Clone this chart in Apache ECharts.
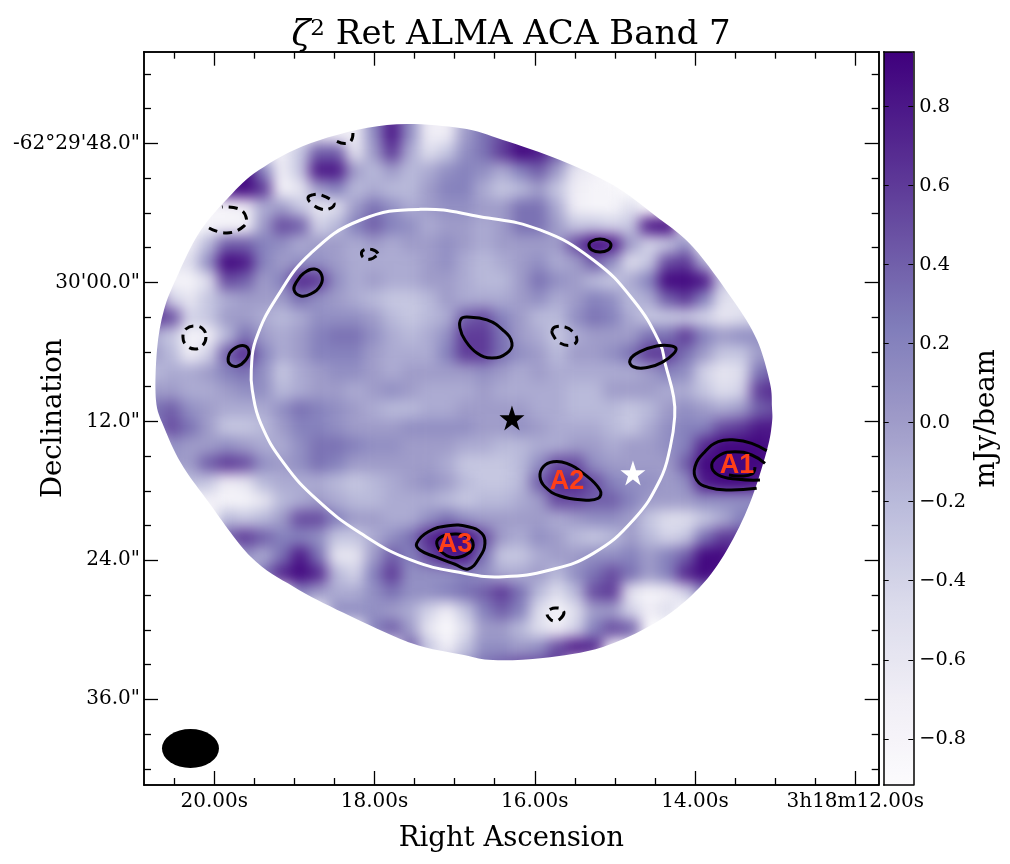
<!DOCTYPE html>
<html>
<head>
<meta charset="utf-8">
<title>zeta2 Ret ALMA ACA Band 7</title>
<script src="https://cdn.jsdelivr.net/npm/echarts@6/dist/echarts.min.js"></script>
<style>
    html, body { margin: 0; background: #fff; }
    #chart { width: 1010px; height: 864px; }
</style>
</head>
<body>
<div id="chart"></div>
<script>
const _ = null;
const serif = '"DejaVu Serif"';

// axis ranges: RA seconds past 3h18m, Dec arcsec past -62 deg 29'
const raRange = [11.708, 20.877];
const decRange = [40.09, 103.40];
const raTicks = [20, 18, 16, 14, 12];
const raLabels = ['20.00s', '18.00s', '16.00s', '14.00s', '3h18m12.00s'];
const raMinor = [20.5, 19.5, 19, 18.5, 17.5, 17, 16.5, 15.5, 15, 14.5, 13.5, 13, 12.5];
const decTicks = [48, 60, 72, 84, 96];
const decLabels = ['-62°29\'48.0"', '30\'00.0"', '12.0"', '24.0"', '36.0"'];
const decMinor = [42, 45, 51, 54, 57, 63, 66, 69, 75, 78, 81, 87, 90, 93, 99, 102];
const barTicks = [-0.8, -0.6, -0.4, -0.2, 0, 0.2, 0.4, 0.6, 0.8];
const barRange = [-0.917, 0.939];
const purples = ['#fcfbfd', '#efedf5', '#dadaeb', '#bcbddc', '#9e9ac8', '#807dba', '#6a51a3', '#54278f', '#3f007d'];

// flux in 0.1 mJy/beam, 40 x 40 coarse cells, rows start at row 3
const mapRows = [
    [_,_,_,_,_,_,_,_,_,_,_,-7,2,7,1,-7,-7,-1,3],
    [_,_,_,_,_,_,_,_,-6,-6,-7,-7,1,8,1,-7,-7,0,3,5,8,7],
    [_,_,_,_,_,_,-6,-7,-3,4,4,-6,0,6,-1,-5,-3,1,3,6,9,8,4,-2],
    [_,_,_,_,4,9,2,-7,-3,8,8,0,-2,0,-2,-1,1,2,1,-1,2,4,0,-6,-7],
    [_,_,_,_,8,9,6,-8,-6,0,2,-2,-1,-2,-2,0,2,2,-1,-3,-2,0,-3,-7,-8,-8],
    [_,_,_,-8,-8,-7,-1,0,-3,-6,-5,0,3,1,-1,0,1,1,0,0,3,3,-1,-7,-8,-8,-5],
    [_,_,_,-8,-8,-8,0,5,4,-4,-2,2,4,2,1,-1,0,0,-1,0,3,3,0,-3,-3,-4,-3,8,9],
    [_,_,-7,-2,4,4,2,1,-1,0,0,-1,0,-1,0,0,1,0,-1,0,0,0,0,5,9,8,0,-4,-3,1],
    [_,-6,-5,1,9,8,2,0,1,1,0,-1,-1,-1,-1,0,1,-1,-2,-1,0,1,-1,0,4,1,-5,-3,5,6,-1],
    [-8,-8,-8,-5,5,4,0,2,7,6,1,-1,0,-1,-1,0,0,-1,-2,-2,0,3,1,0,-2,-3,-1,2,9,9,8,-3,-6],
    [6,-4,-6,-3,-1,0,0,0,3,1,0,-1,-2,-3,-3,-2,0,-1,-1,-1,0,1,-1,0,2,1,-2,-1,4,6,2,-5,-6,-6],
    [6,5,-4,-3,0,0,-1,-2,-1,1,1,1,0,-2,-3,-2,-1,4,5,2,0,-2,-2,1,3,2,-1,-3,-3,-3,-4,-6,-5,-4],
    [-1,-3,-8,-7,-2,3,0,-1,0,2,3,3,1,-1,-2,-1,1,6,6,3,0,-1,-3,-1,0,0,0,3,3,6,2,0,1,1,0],
    [0,-2,-7,-4,4,7,2,-1,0,2,2,2,0,-1,-1,-1,2,6,6,3,1,0,-2,0,0,1,3,6,6,3,0,-3,-3,0,0],
    [-2,-1,-1,0,2,3,1,-3,-1,0,1,1,0,-1,0,0,0,0,1,0,-1,0,-1,-1,-1,-1,-1,0,2,1,-4,-6,-5,3,4],
    [0,0,-1,-1,0,1,1,-2,-1,0,0,-1,0,1,0,-1,-1,-1,0,-1,-1,-1,-1,-2,-2,0,0,0,-1,-1,-3,-5,-4,6,7],
    [3,4,1,0,-1,-1,-1,1,3,2,1,0,-1,-2,-2,-1,-1,0,0,0,0,-1,-1,-2,-2,-2,-3,-2,0,1,0,-1,0,4,5],
    [2,5,3,0,-3,-3,-2,0,2,2,1,0,0,0,1,1,1,1,0,0,1,0,-1,-1,-1,-2,-3,-1,1,2,2,5,6,8,8],
    [_,1,0,0,1,0,-1,-1,1,3,3,2,1,1,0,0,0,-1,-1,-2,-2,-1,-1,0,0,-1,0,0,1,2,7,9,9,9,8],
    [_,0,0,4,6,5,1,0,1,3,2,0,0,0,0,0,-1,-3,-3,-3,-2,1,5,5,1,0,0,0,0,4,9,9,9,9,8],
    [_,_,-2,-3,-7,-6,-2,-1,-1,-1,-2,-3,-2,-1,0,1,0,-2,-3,-3,-2,4,7,7,5,2,1,1,0,1,8,9,9,8,6],
    [_,_,_,-7,-8,-8,-6,-2,-1,0,-1,-2,-2,-1,-1,-1,-2,-3,-2,-2,-1,0,5,5,4,4,2,0,0,0,1,1,1,1,0],
    [_,_,_,_,-2,-3,-2,0,5,5,2,0,0,-1,-1,1,3,1,0,0,0,0,-1,0,1,1,0,-3,-5,-5,-3,-1,2,3],
    [_,_,_,_,4,6,4,2,2,1,-3,-3,-1,1,3,7,9,9,5,0,-1,1,0,-2,-3,-2,0,-2,-4,-3,3,6,6],
    [_,_,_,_,_,1,-1,3,8,3,-6,-6,0,4,2,5,8,8,3,-3,-3,-1,0,0,1,1,2,0,2,4,9,9,6],
    [_,_,_,_,_,_,3,7,9,7,-2,-4,2,6,1,1,1,2,1,-1,-1,0,-2,1,3,5,3,0,2,7,9,8],
    [_,_,_,_,_,_,_,_,2,0,-1,-1,1,3,1,1,2,3,4,6,3,-2,-5,-2,5,6,-6,-8,-7,-4,2],
    [_,_,_,_,_,_,_,_,_,_,1,1,1,0,-1,-4,-7,-3,2,4,2,-5,-8,-5,0,0,-4,-7,-5],
    [_,_,_,_,_,_,_,_,_,_,_,_,2,4,0,-6,-9,-5,0,0,-2,-5,-7,-4,2,5,4],
    [_,_,_,_,_,_,_,_,_,_,_,_,_,_,4,-3,-7,-3,1,1,0,1,5,8,7],
    [_,_,_,_,_,_,_,_,_,_,_,_,_,_,_,_,-2,0,3,4,5,5,6]
];
const firstRow = 3;
const cellCount = 40;

// map outline, [RA s, Dec "]
const mapEdge = [[17.845,46.42],[16.934,46.68],[16.397,47.72],[15.686,49.44],[15.024,51.60],[14.475,54.36],[14.026,56.95],[13.527,61.53],[13.227,64.98],[13.065,68.69],[13.040,70.77],[13.040,72.15],[13.102,74.48],[13.315,79.05],[13.602,83.11],[13.938,86.30],[14.438,89.15],[15.149,91.48],[15.898,92.43],[16.522,92.61],[16.884,92.18],[17.545,91.14],[18.381,88.55],[19.005,86.30],[19.542,83.71],[20.091,78.79],[20.416,75.60],[20.628,72.49],[20.728,70.16],[20.715,65.84],[20.628,62.39],[20.466,59.54],[20.191,55.74],[19.817,52.64],[19.442,50.31],[18.793,47.97]];

// primary beam circle
const fieldEdge = [[17.424,53.70],[18.173,54.62],[18.797,57.50],[19.214,61.24],[19.483,64.98],[19.538,67.57],[19.526,69.30],[19.421,72.17],[19.130,75.63],[18.715,78.79],[18.173,81.67],[17.549,83.97],[16.884,85.12],[16.393,85.42],[15.810,84.84],[15.270,83.40],[14.771,80.52],[14.438,77.07],[14.309,74.22],[14.254,71.63],[14.267,69.90],[14.372,67.05],[14.438,65.27],[14.771,61.53],[15.270,58.07],[15.935,55.48],[16.684,54.34],[17.424,53.70]];

// contours above the noise
const contourA = [[18.747,58.85],[18.660,59.37],[18.672,60.23],[18.797,61.01],[18.922,61.18],[19.005,60.66],[18.972,59.95],[18.881,59.20],[18.747,58.85]];
const contourB = [[19.629,65.47],[19.567,65.99],[19.608,66.71],[19.713,67.25],[19.804,67.08],[19.825,66.47],[19.763,65.78],[19.629,65.47]];
const contourC = [[15.049,56.78],[15.087,57.21],[15.186,57.38],[15.286,57.21],[15.324,56.78],[15.286,56.43],[15.186,56.26],[15.087,56.43],[15.049,56.78]];
const contourD = [[16.921,63.17],[16.846,63.00],[16.597,63.25],[16.397,64.12],[16.285,65.24],[16.347,66.10],[16.534,66.54],[16.722,66.10],[16.871,64.98],[16.934,63.95],[16.921,63.17]];
const contourE = [[14.238,65.70],[14.313,65.47],[14.479,65.50],[14.687,65.99],[14.812,66.71],[14.771,67.29],[14.584,67.34],[14.396,66.85],[14.272,66.19],[14.238,65.70]];
const contourA2 = [[15.769,75.49],[15.602,75.63],[15.395,76.49],[15.186,77.93],[15.208,78.65],[15.395,78.79],[15.686,78.45],[15.873,77.65],[15.935,76.78],[15.894,75.92],[15.769,75.49]];
const contourA1Outer = [[13.106,74.54],[13.293,73.90],[13.502,73.61],[13.710,73.76],[13.876,74.62],[14.001,75.92],[13.980,77.07],[13.835,77.70],[13.585,77.93],[13.231,77.78]];
const contourA1Inner = [[13.127,75.63],[13.293,74.91],[13.502,74.62],[13.689,74.91],[13.792,75.77],[13.710,76.64],[13.460,77.01],[13.190,77.07]];
const contourA1Core = [[13.577,76.64],[13.439,76.72],[13.289,76.55],[13.252,75.95]];
const contourA3Outer = [[17.474,82.53],[17.329,81.53],[17.080,81.01],[16.830,81.10],[16.663,81.67],[16.622,82.53],[16.684,83.69],[16.830,84.75],[16.996,84.34],[17.246,83.69],[17.433,83.11],[17.474,82.53]];
const contourA3Inner = [[17.224,82.53],[17.162,81.96],[16.996,81.73],[16.830,81.96],[16.768,82.68],[16.830,83.40],[16.996,83.78],[17.142,83.40],[17.224,82.53]];
// negative contours
const negativeA = [[18.469,47.84],[18.369,48.02],[18.294,47.80],[18.269,47.11]];
const negativeB = [[18.831,52.72],[18.781,52.46],[18.668,52.46],[18.506,53.15],[18.544,53.59],[18.668,53.67],[18.793,53.15],[18.831,52.72]];
const negativeC = [[20.066,55.31],[19.842,55.74],[19.629,55.14],[19.604,54.36],[19.692,53.67],[19.904,53.50]];
const negativeD = [[17.957,57.51],[18.032,57.17],[18.132,57.21],[18.163,57.56],[18.119,57.95],[18.044,57.99],[17.982,57.73],[17.957,57.51]];
const negativeE = [[20.104,64.72],[20.141,65.41],[20.241,65.76],[20.353,65.41],[20.391,64.72],[20.353,64.03],[20.241,63.77],[20.141,64.03],[20.104,64.72]];
const negativeF = [[15.786,64.20],[15.748,63.86],[15.623,63.86],[15.536,64.20],[15.474,64.98],[15.536,65.41],[15.686,65.24],[15.773,64.55],[15.786,64.20]];
const negativeG = [[15.636,88.55],[15.686,89.07],[15.748,89.24],[15.810,89.07],[15.848,88.55],[15.798,88.20],[15.736,88.12],[15.673,88.20],[15.636,88.55]];

const solidContours = [contourA, contourB, contourC, contourD, contourE, contourA2, contourA1Outer, contourA1Inner, contourA1Core, contourA3Outer, contourA3Inner];
const dashedContours = [negativeA, negativeB, negativeC, negativeD, negativeE, negativeF, negativeG];

const starBlack = [16.285, 71.72];
const starWhite = [14.775, 76.46];
const beamPos = [20.297, 100.25];
const sourceNames = ['A1', 'A2', 'A3'];
const sourcePos = [[13.477, 75.86], [15.598, 77.24], [16.996, 82.68]];

const starPath = 'path://M50 0L61.8 35.4L97.6 35.4L68.8 57.3L79.4 90.5L50 69L20.6 90.5L31.2 57.3L2.4 35.4L38.2 35.4Z';

let heatData = [];
mapRows.forEach(function(row, r) {
    row.forEach(function(v, c) {
        if (v !== null) {
            heatData.push([c, r + firstRow, v / 10]);
        }
    });
});

let cells = [];
for (let i = 0; i < cellCount; i++) {
    cells.push(String(i));
}

// one frame side of the WCS plot, major and minor ticks go on separate axes
function frameAxis(dim, position, ticks, length, labels) {
    let isX = dim === 'x';
    let axis = {
        type: 'value',
        position: position,
        inverse: true,
        min: (isX ? raRange : decRange)[0],
        max: (isX ? raRange : decRange)[1],
        zlevel: 1,
        z: 6,
        axisLine: { show: true, onZero: false, lineStyle: { color: '#000', width: 1.5 } },
        axisTick: {
            show: true,
            inside: true,
            length: length,
            customValues: ticks,
            lineStyle: { color: '#000', width: 1.3 }
        },
        axisLabel: { show: false },
        splitLine: { show: false }
    };
    if (labels) {
        axis.axisLabel = {
            show: true,
            customValues: ticks,
            margin: isX ? 7 : 4,
            padding: isX ? 0 : [2, 0, 0, 0],
            color: '#000',
            fontFamily: serif,
            fontSize: 20,
            hideOverlap: false,
            formatter: function(value) {
                let k = ticks.indexOf(value);
                return k >= 0 ? labels[k] : '';
            }
        };
        axis.name = isX ? 'Right Ascension' : 'Declination';
        axis.nameLocation = 'middle';
        axis.nameGap = isX ? 40 : 76;
        axis.nameMoveOverlap = false;
        axis.nameTextStyle = { color: '#000', fontFamily: serif, fontSize: 27.5 };
    }
    return axis;
}

function hiddenCellAxis(dim) {
    return {
        type: 'category',
        data: cells,
        show: false,
        inverse: dim === 'y'
    };
}

function barSide(position, withLabels) {
    let axis = {
        type: 'value',
        gridIndex: 1,
        position: position,
        min: barRange[0],
        max: barRange[1],
        zlevel: 1,
        z: 6,
        axisLine: { show: true, onZero: false, lineStyle: { color: '#000', width: 1.5 } },
        axisTick: { show: true, inside: true, length: 5, customValues: barTicks, lineStyle: { color: '#000', width: 1 } },
        axisLabel: { show: false },
        splitLine: { show: false }
    };
    if (withLabels) {
        axis.axisLabel = {
            show: true,
            customValues: barTicks,
            margin: 6,
            padding: [4, 0, 0, 0],
            color: '#000',
            fontFamily: serif,
            fontSize: 19.3,
            formatter: function(value) {
                return value.toFixed(1).replace('-', '\u2212');
            }
        };
        axis.name = 'mJy/beam';
        axis.nameLocation = 'middle';
        axis.nameRotate = 90;
        axis.nameGap = 60;
        axis.nameMoveOverlap = false;
        axis.nameTextStyle = { color: '#000', fontFamily: serif, fontSize: 27.5 };
    }
    return axis;
}

function barEdge(position) {
    return {
        type: 'value',
        gridIndex: 1,
        position: position,
        min: 0,
        max: 1,
        zlevel: 1,
        z: 6,
        axisLine: { show: true, onZero: false, lineStyle: { color: '#000', width: 1.5 } },
        axisTick: { show: false },
        axisLabel: { show: false },
        splitLine: { show: false }
    };
}

// contour as one smooth zrender shape, closed when the list ends where it began
function contourSeries(points, color, width, dash) {
    let last = points[points.length - 1];
    let closed = points[0][0] === last[0] && points[0][1] === last[1];
    let line = closed ? points.slice(0, -1) : points;
    return {
        type: 'custom',
        zlevel: 1,
        z: 3,
        encode: { x: 0, y: 1 },
        data: line,
        renderItem: function(params, api) {
            if (params.dataIndex !== 0) {
                return;
            }
            return {
                type: closed ? 'polygon' : 'polyline',
                shape: {
                    points: line.map(function(p) { return api.coord(p); }),
                    smooth: 0.45
                },
                style: { fill: 'none', stroke: color, lineWidth: width, lineDash: dash }
            };
        }
    };
}

let series = [{
    type: 'heatmap',
    xAxisIndex: 4,
    yAxisIndex: 4,
    zlevel: 0,
    progressive: 0,
    data: heatData
}, contourSeries(fieldEdge, '#fff', 3)];

solidContours.forEach(function(points) {
    series.push(contourSeries(points, '#000', 3));
});
dashedContours.forEach(function(points) {
    series.push(contourSeries(points, '#000', 3, [9, 6]));
});

series.push({
    type: 'scatter',
    zlevel: 1,
    z: 4,
    symbol: starPath,
    symbolSize: 25,
    itemStyle: { color: '#000', opacity: 1 },
    data: [starBlack]
}, {
    type: 'scatter',
    zlevel: 1,
    z: 4,
    symbol: starPath,
    symbolSize: 25,
    itemStyle: { color: '#fff', opacity: 1 },
    data: [starWhite]
}, {
    type: 'scatter',
    zlevel: 1,
    z: 4,
    symbol: 'circle',
    symbolSize: [57, 39],
    itemStyle: { color: '#000', opacity: 1 },
    data: [beamPos]
}, {
    type: 'scatter',
    zlevel: 1,
    z: 8,
    symbolSize: 2,
    itemStyle: { color: 'transparent', opacity: 1 },
    label: {
        show: true,
        position: 'inside',
        formatter: '{b}',
        color: '#ff3f17',
        opacity: 1,
        fontFamily: '"Liberation Sans"',
        fontWeight: 'bold',
        fontSize: 27
    },
    labelLayout: { hideOverlap: false },
    data: sourceNames.map(function(name, i) {
        return { name: name, value: sourcePos[i] };
    })
});

let chart = echarts.init(document.getElementById('chart'));
let option = {
    animation: false,
    title: {
        text: '{z|ζ}{s|2}{t| Ret ALMA ACA Band 7}',
        left: 506,
        top: 13,
        textAlign: 'center',
        zlevel: 1,
        textStyle: {
            fontWeight: 'normal',
            rich: {
                z: { fontFamily: serif, fontStyle: 'italic', fontWeight: 'normal', fontSize: 35, color: '#000' },
                s: { fontFamily: serif, fontWeight: 'normal', fontSize: 23, color: '#000', verticalAlign: 'top' },
                t: { fontFamily: serif, fontWeight: 'normal', fontSize: 34, color: '#000' }
            }
        }
    },
    grid: [
        { left: 144, top: 51.7, width: 734.7, height: 733.3, zlevel: 1, outerBoundsMode: 'none' },
        { left: 883.7, top: 51.7, width: 29.6, height: 733.3, zlevel: 1, outerBoundsMode: 'none' }
    ],
    visualMap: {
        type: 'continuous',
        seriesIndex: 0,
        min: barRange[0],
        max: barRange[1],
        calculable: false,
        hoverLink: false,
        left: 883.7,
        top: 51.7,
        padding: 0,
        itemWidth: 29.6,
        itemHeight: 733.3,
        zlevel: 1,
        inRange: { color: purples }
    },
    xAxis: [
        frameAxis('x', 'bottom', raTicks, 14, raLabels),
        frameAxis('x', 'bottom', raMinor, 7),
        frameAxis('x', 'top', raTicks, 14),
        frameAxis('x', 'top', raMinor, 7),
        hiddenCellAxis('x'),
        barEdge('bottom'),
        barEdge('top')
    ],
    yAxis: [
        frameAxis('y', 'left', decTicks, 14, decLabels),
        frameAxis('y', 'left', decMinor, 7),
        frameAxis('y', 'right', decTicks, 14),
        frameAxis('y', 'right', decMinor, 7),
        hiddenCellAxis('y'),
        barSide('right', true),
        barSide('left', false)
    ],
    series: series
};
chart.setOption(option);

// the map is a smoothed image: soften the coarse cells on their own canvas layer, cut to the map outline
let edgePx = mapEdge.map(function(p) {
    return chart.convertToPixel({ xAxisIndex: 0, yAxisIndex: 0 }, p);
});
let n = edgePx.length;
let outline = 'M' + edgePx[0][0] + ' ' + edgePx[0][1];
edgePx.forEach(function(p, i) {
    let prev = edgePx[(i + n - 1) % n];
    let next = edgePx[(i + 1) % n];
    let after = edgePx[(i + 2) % n];
    outline += 'C' + (p[0] + (next[0] - prev[0]) / 6) + ' ' + (p[1] + (next[1] - prev[1]) / 6)
        + ' ' + (next[0] - (after[0] - p[0]) / 6) + ' ' + (next[1] - (after[1] - p[1]) / 6)
        + ' ' + next[0] + ' ' + next[1];
});
let mapLayer = document.querySelector('#chart canvas');
mapLayer.style.filter = 'blur(7px)';
mapLayer.style.clipPath = 'path("' + outline + 'Z")';
</script>
</body>
</html>
